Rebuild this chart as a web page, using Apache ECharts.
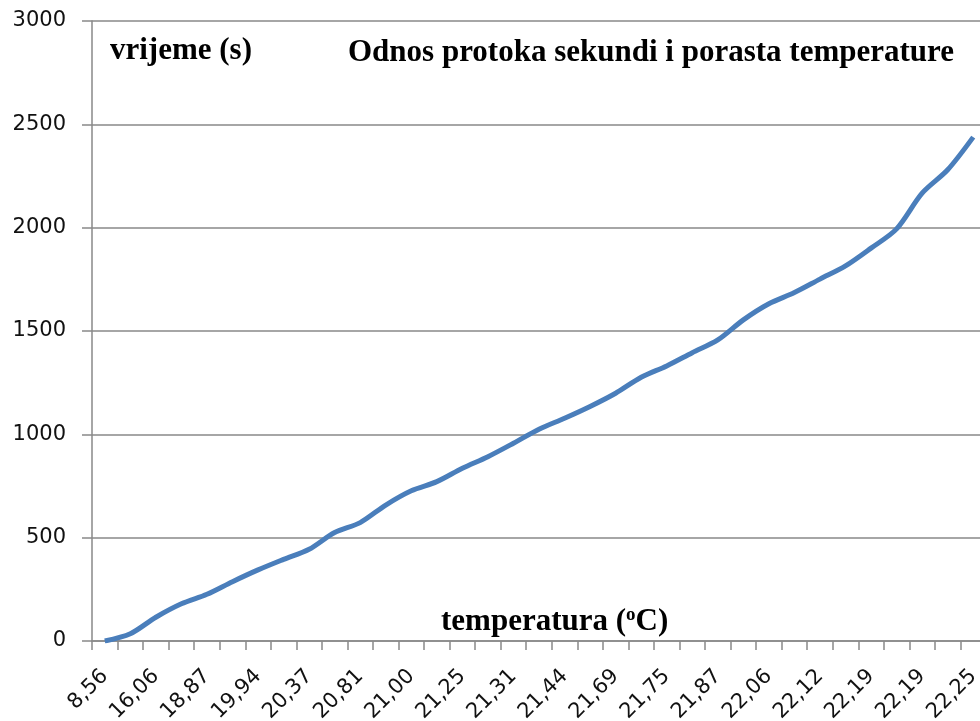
<!DOCTYPE html>
<html>
<head>
<meta charset="utf-8">
<title>Odnos protoka sekundi i porasta temperature</title>
<script src="https://cdn.jsdelivr.net/npm/echarts@6/dist/echarts.min.js"></script>
<style>
  html, body { margin: 0; padding: 0; background: #fff; }
  #chart { width: 980px; height: 721px; }
</style>
</head>
<body>
<div id="chart"></div>
<script>
// temperatura (°C) - samo svaka druga oznaka je vidljiva na grafu
var temperature = [
  '8,56', '12,50', '16,06', '17,62', '18,87', '19,44', '19,94', '20,19', '20,37', '20,62',
  '20,81', '20,94', '21,00', '21,12', '21,25', '21,25', '21,31', '21,37', '21,44', '21,56',
  '21,69', '21,75', '21,75', '21,81', '21,87', '21,94', '22,06', '22,06', '22,12', '22,19',
  '22,19', '22,19', '22,19', '22,25', '22,25'
];
// vrijeme (s)
var vrijeme = [
  0, 35, 115, 180, 226, 287, 344, 395, 444, 525,
  573, 658, 727, 771, 836, 892, 957, 1025, 1078, 1135,
  1199, 1276, 1331, 1395, 1457, 1554, 1632, 1686, 1751, 1815,
  1901, 1994, 2167, 2280, 2438
];
var yTicks = { min: 0, max: 3000, step: 500 };

var chart = echarts.init(document.getElementById('chart'));
var gray = '#898989';
var serif = '"Liberation Serif", "Times New Roman", serif';
var sans = '"DejaVu Sans", Verdana, sans-serif';
var heading = { fontFamily: serif, fontWeight: 'bold', fontSize: 31, color: '#000' };

var option = {
  animation: false,
  backgroundColor: '#fff',
  title: [{
    text: 'Odnos protoka sekundi i porasta temperature',
    left: 348, top: 37, padding: 0,
    textStyle: heading
  }, {
    text: 'vrijeme (s)',
    left: 110, top: 35, padding: 0,
    textStyle: heading
  }, {
    text: 'temperatura ({sup|o}C)',
    left: 441, top: 606, padding: 0,
    textStyle: Object.assign({}, heading, {
      rich: {
        sup: { fontFamily: serif, fontWeight: 'bold', fontSize: 19, color: '#000', verticalAlign: 'top', padding: [0, 0, 10, 0] }
      }
    })
  }],
  grid: { left: 92, top: 21, right: -6, bottom: 80, outerBoundsMode: 'none', containLabel: false },
  xAxis: {
    type: 'category',
    data: temperature,
    boundaryGap: true,
    axisLine: { show: true, lineStyle: { color: gray, width: 1.5 } },
    axisTick: { show: true, interval: 0, length: 9, lineStyle: { color: gray, width: 1.5 } },
    axisLabel: {
      interval: 1, rotate: 45, margin: 32,
      fontFamily: sans, fontSize: 21, color: '#111'
    },
    splitLine: { show: false }
  },
  yAxis: {
    type: 'value',
    min: yTicks.min, max: yTicks.max, interval: yTicks.step,
    axisLine: { show: true, lineStyle: { color: gray, width: 1.5 } },
    axisTick: { show: true, length: 10, lineStyle: { color: gray, width: 1.5 } },
    axisLabel: {
      margin: 26,
      formatter: function (v) { return String(v); },
      fontFamily: sans, fontSize: 21, color: '#111'
    },
    splitLine: { show: true, lineStyle: { color: gray, width: 1.5 } }
  },
  series: [{
    type: 'line',
    data: vrijeme,
    smooth: 0.3,
    showSymbol: false,
    lineStyle: { color: '#4a7ebb', width: 5 },
    itemStyle: { color: '#4a7ebb' }
  }]
};
chart.setOption(option);
</script>
</body>
</html>
